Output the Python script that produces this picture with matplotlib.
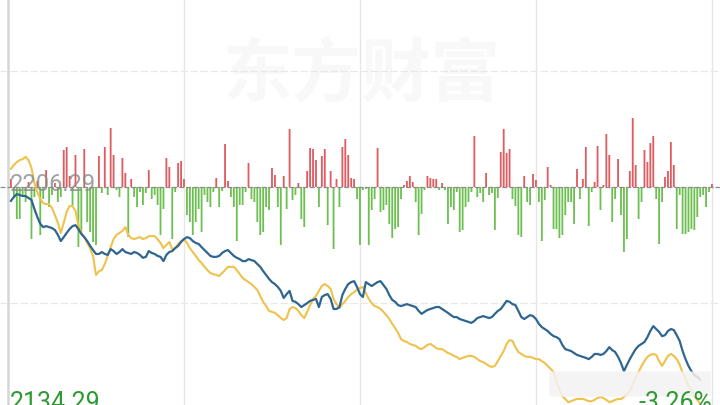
import matplotlib
matplotlib.use("Agg")
import matplotlib.pyplot as plt
from matplotlib.patches import FancyBboxPatch

# ---------------- data ----------------
base_price = 2206.29
low_label = "2134.29"
pct_label = "-3.26%"
watermark = "东方财富"

flow = [8, -10, -32, -32, -8, -15, 5, -52, -10, 6,
        -48, -12, 17, -20, -8, 4, -15, -10, 37, 40,
        11, -18, 32, -60, -45, 38, -35, -45, -55, -58,
        31, -6, 40, -8, 59, 32, -3, -10, 29, 14,
        -50, 8, -10, -20, -5, -18, -6, 17, -12, -8,
        -18, -48, -22, 29, 20, -52, -5, 24, 26, 8,
        -28, -35, -48, -35, -22, -45, -8, -15, -20, -5,
        9, -20, -4, 43, 6, -10, -20, -54, -18, -18,
        -5, 24, -12, -15, -35, -48, -45, -20, -23, 19,
        12, -20, -58, 11, -22, 58, -13, -8, 4, -32,
        -40, 16, 39, 38, 27, -20, 31, 38, -38, 16,
        -62, 8, -20, 40, 48, 32, 9, 8, -12, -58,
        -3, -2, -58, -23, -12, 39, -25, -23, -18, -37,
        -51, -42, -40, -12, 2, 6, 11, 5, -15, -48,
        -27, -3, 11, 9, 8, 8, -3, 4, -3, -37,
        -20, -23, -5, -45, -43, -20, -15, -5, 51, -10,
        -6, -15, 14, -8, -6, -43, -11, 35, 58, 34,
        38, -12, -19, -48, -50, 11, -15, -18, 13, 7,
        -15, -54, -13, 20, 2, -42, -42, -51, -48, -28,
        -15, -15, -37, 18, -12, 8, 40, -39, -5, 5,
        41, -23, 2, 53, 32, -35, -12, 28, -28, -65,
        -52, 16, 69, 22, -32, -15, 37, 25, 44, 51,
        -12, -57, -15, 10, 16, 45, 22, -42, -8, -47,
        -47, -45, -42, -43, -30, -10, -8, -20, -5, 3]

blue_price = [2202.0, 2203.2, 2204.1, 2203.8, 2203.5, 2203.5, 2202.9, 2202.3, 2199.5, 2197.0,
              2194.9, 2193.9, 2194.2, 2193.9, 2193.6, 2193.0, 2191.5, 2189.6, 2190.8, 2192.1,
              2193.3, 2194.2, 2194.5, 2193.3, 2191.8, 2190.8, 2189.6, 2188.1, 2186.8, 2185.6,
              2185.6, 2186.2, 2185.6, 2185.3, 2187.1, 2186.5, 2185.6, 2186.2, 2187.1, 2186.2,
              2185.9, 2185.6, 2186.2, 2185.9, 2185.3, 2184.4, 2184.7, 2186.5, 2185.9, 2185.6,
              2185.0, 2184.7, 2183.4, 2185.3, 2186.2, 2186.5, 2187.4, 2188.1, 2189.3, 2190.2,
              2190.8, 2190.5, 2189.6, 2189.0, 2188.7, 2187.7, 2186.8, 2185.9, 2185.0, 2184.7,
              2184.7, 2185.0, 2185.9, 2186.5, 2186.8, 2185.9, 2185.0, 2184.4, 2184.0, 2183.4,
              2183.4, 2184.0, 2183.7, 2183.4, 2182.5, 2181.6, 2180.3, 2179.1, 2177.9, 2176.9,
              2176.3, 2175.4, 2174.2, 2172.0, 2173.2, 2174.2, 2171.1, 2170.8, 2170.1, 2169.2,
              2169.8, 2170.4, 2171.1, 2171.4, 2171.7, 2169.2, 2172.3, 2172.9, 2173.2, 2171.7,
              2168.6, 2168.6, 2169.2, 2172.9, 2174.8, 2176.3, 2176.9, 2177.2, 2175.4, 2173.2,
              2172.3, 2176.9, 2176.3, 2175.7, 2176.3, 2176.9, 2177.2, 2176.0, 2174.8, 2172.9,
              2171.4, 2170.8, 2169.8, 2169.5, 2169.8, 2170.1, 2169.8, 2169.5, 2169.2, 2168.0,
              2167.1, 2167.7, 2168.3, 2168.6, 2168.9, 2169.2, 2169.2, 2168.6, 2168.0, 2167.4,
              2166.7, 2166.1, 2166.1, 2165.5, 2165.2, 2164.9, 2164.6, 2164.3, 2164.9, 2165.8,
              2166.1, 2166.4, 2166.1, 2165.8, 2166.1, 2167.1, 2168.0, 2168.6, 2169.8, 2171.1,
              2170.8, 2170.1, 2169.8, 2168.0, 2166.1, 2165.5, 2166.1, 2166.7, 2166.4, 2165.5,
              2164.0, 2163.0, 2162.4, 2161.8, 2160.9, 2160.2, 2159.9, 2159.3, 2157.5, 2156.2,
              2155.9, 2155.6, 2155.0, 2154.4, 2154.1, 2153.8, 2153.5, 2153.1, 2153.8, 2154.7,
              2154.7, 2154.4, 2154.7, 2155.6, 2156.8, 2155.9, 2155.3, 2153.8, 2151.9, 2149.4,
              2151.3, 2153.1, 2154.7, 2156.2, 2157.2, 2157.8, 2158.4, 2159.9, 2161.8, 2163.3,
              2162.4, 2161.5, 2160.2, 2160.5, 2161.8, 2162.4, 2162.1, 2160.5, 2158.7, 2155.6,
              2153.1, 2151.0, 2149.4, 2148.2, 2147.6, 2146.7]

yellow_price = [2211.9, 2213.1, 2214.0, 2214.6, 2214.9, 2215.6, 2214.6, 2212.2, 2207.5, 2204.7,
                2202.6, 2201.3, 2201.0, 2201.0, 2199.8, 2197.6, 2195.2, 2192.1, 2195.2, 2198.6,
                2200.4, 2200.4, 2198.9, 2194.5, 2192.1, 2190.8, 2189.0, 2187.4, 2185.0, 2179.1,
                2180.3, 2180.6, 2182.5, 2185.0, 2187.7, 2190.2, 2191.5, 2192.1, 2192.7, 2193.9,
                2191.5, 2190.5, 2190.2, 2190.5, 2190.8, 2190.2, 2190.5, 2191.1, 2191.1, 2191.1,
                2190.2, 2189.0, 2187.4, 2188.4, 2189.3, 2187.1, 2187.4, 2188.7, 2189.6, 2190.2,
                2189.0, 2187.4, 2186.2, 2185.0, 2183.7, 2182.8, 2181.6, 2180.6, 2179.7, 2179.4,
                2179.1, 2178.8, 2179.7, 2180.6, 2181.6, 2181.6, 2181.6, 2180.6, 2179.4, 2178.2,
                2177.5, 2176.9, 2176.3, 2175.4, 2174.5, 2172.6, 2170.8, 2169.5, 2168.0, 2167.7,
                2167.4, 2166.7, 2165.8, 2165.2, 2165.8, 2168.6, 2169.2, 2168.9, 2168.0, 2166.7,
                2165.8, 2167.7, 2169.8, 2171.7, 2172.6, 2174.2, 2175.7, 2176.3, 2175.7, 2174.8,
                2171.7, 2170.1, 2168.9, 2170.1, 2171.1, 2172.3, 2173.2, 2173.8, 2174.5, 2175.1,
                2175.4, 2173.5, 2171.7, 2170.4, 2169.5, 2169.2, 2168.6, 2167.7, 2166.7, 2165.5,
                2164.0, 2162.7, 2161.2, 2159.3, 2158.7, 2158.4, 2157.8, 2157.5, 2157.2, 2156.5,
                2156.2, 2156.8, 2157.5, 2157.8, 2157.2, 2156.5, 2156.2, 2156.2, 2155.6, 2155.0,
                2154.7, 2154.1, 2153.8, 2153.1, 2153.5, 2153.8, 2154.1, 2154.1, 2153.8, 2153.1,
                2152.5, 2152.2, 2151.6, 2151.0, 2150.7, 2151.0, 2152.5, 2154.1, 2155.6, 2157.8,
                2159.0, 2158.7, 2156.8, 2155.3, 2154.7, 2154.1, 2153.8, 2153.8, 2153.5, 2153.1,
                2153.1, 2152.5, 2151.9, 2151.0, 2150.1, 2149.1, 2146.3, 2143.6, 2141.7, 2140.8,
                2139.8, 2140.1, 2140.5, 2140.8, 2140.8, 2140.8, 2140.5, 2140.1, 2140.1, 2140.5,
                2141.1, 2141.4, 2141.1, 2140.5, 2139.8, 2140.1, 2140.5, 2140.8, 2140.8, 2141.4,
                2142.3, 2143.2, 2145.1, 2147.3, 2149.1, 2151.0, 2152.5, 2153.8, 2154.4, 2154.7,
                2154.4, 2152.5, 2151.0, 2152.5, 2154.1, 2154.7, 2154.1, 2153.1, 2151.4, 2148.9,
                2147.0, 2144.8, 2143.2, 2141.7, 2140.5, 2139.3]

grid_minutes = [0, 60, 120, 180, 240]
grid_pct = [-1.63, 1.63]

# ---------------- figure ----------------
W, H, DPI = 720, 406, 100
fig = plt.figure(figsize=(W / DPI, H / DPI), dpi=DPI, facecolor="white")

x_lo, x_hi = -2.73, 242.75
price_top = 2264.38
price_bot = 2138.93

# bar axes (bottom layer)
axb = fig.add_axes([0, 0, 1, 1])
axb.set_xlim(x_lo, x_hi)
axb.set_ylim(-218, 188)
axb.axis("off")

# watermark
axb.text(0.503, 0.815, watermark, transform=axb.transAxes, ha="center", va="center",
         fontsize=50, fontweight="bold", color="#f8f8f8",
         family=["Noto Sans CJK SC", "DejaVu Sans"], zorder=0)

# grid
for m in grid_minutes:
    if m == 0:
        axb.axvline(m, color="#d6d6d6", lw=1.8, zorder=1)
    else:
        axb.axvline(m, color="#e6e6e6", lw=1.0, zorder=1)

xs = [i + 1 for i in range(len(flow))]
colors = ["#de5b5f" if v >= 0 else "#6cbf50" for v in flow]
bars = axb.bar(xs, flow, width=0.62, color=colors, linewidth=0, zorder=3)
for b in bars:
    b.set_snap(False)

# line axes (top layer)
axl = fig.add_axes([0, 0, 1, 1])
axl.patch.set_alpha(0)
axl.set_xlim(x_lo, x_hi)
axl.set_ylim(price_bot, price_top)
axl.axis("off")

for p in grid_pct:
    axl.axhline(base_price * (1 + p / 100), color="#e8e8e8", lw=0.9, ls=(0, (6, 2)), zorder=1)
axl.axhline(base_price, color="#8c8c8c", lw=0.9, ls=(0, (4, 1.5)), zorder=2)

lx = [i + 1 for i in range(len(blue_price))]
axl.plot(lx, yellow_price, color="#efc24c", lw=1.5, zorder=4, solid_joinstyle="round")
axl.plot(lx, blue_price, color="#2f6690", lw=1.6, zorder=5, solid_joinstyle="round")

# blurred box bottom right
box = FancyBboxPatch((552 / W, 1 - 396 / H), 156 / W, 22 / H, boxstyle="round,pad=0.004",
                     transform=axl.transAxes, facecolor="#f3f3f3", edgecolor="none",
                     alpha=0.85, zorder=6)
axl.add_patch(box)

# labels
axl.text(10 / W, 1 - 185 / H, f"{base_price:.2f}", transform=axl.transAxes, ha="left",
         va="center", fontsize=17, color="#8a8a8a", alpha=0.8, family="Roboto", zorder=7)
axl.text(10 / W, 1 - 391 / H, low_label, transform=axl.transAxes, ha="left", va="top",
         fontsize=18, color="#2e9a33", family="Roboto", zorder=7)
axl.text(712 / W, 1 - 391 / H, pct_label, transform=axl.transAxes, ha="right", va="top",
         fontsize=18, color="#2e9a33", family="Roboto", zorder=7)

fig.savefig("out.png", dpi=DPI, facecolor="white")
